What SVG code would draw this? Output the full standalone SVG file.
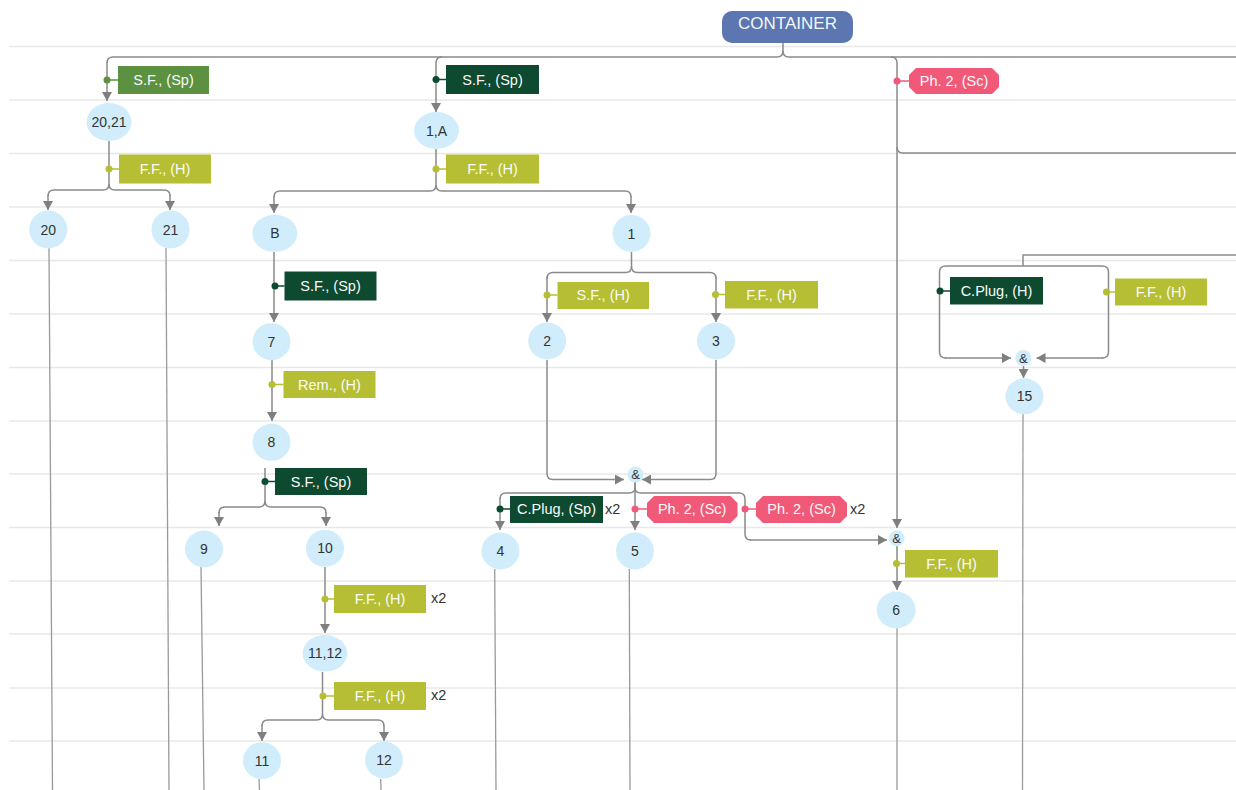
<svg xmlns="http://www.w3.org/2000/svg" width="1236" height="790" viewBox="0 0 1236 790">
<style>
.grid{stroke:#e8e8e8;stroke-width:1.5}
.c{fill:none;stroke:#8a8a8a;stroke-width:1.5}
.ca{fill:none;stroke:#8a8a8a;stroke-width:1.5;marker-end:url(#ah)}
.tail{fill:none;stroke:#9a9a9a;stroke-width:1.3}
.n{fill:#d1edfb}
.nt{font-family:"Liberation Sans",Arial,sans-serif;font-size:14px;fill:#333;text-anchor:middle}
.amp{font-family:"Liberation Sans",Arial,sans-serif;font-size:13px;fill:#333;text-anchor:middle}
.lt{font-family:"Liberation Sans",Arial,sans-serif;font-size:14.5px;fill:#fafafa;text-anchor:middle}
.x2{font-family:"Liberation Sans",Arial,sans-serif;font-size:14.5px;fill:#333}
.mg{fill:#5b9141}.mgs{stroke:#5b9141;stroke-width:1.5}
.dg{fill:#0e4a30}.dgs{stroke:#0e4a30;stroke-width:1.5}
.yg{fill:#b6bf33}.ygs{stroke:#b6bf33;stroke-width:1.5}
.pk{fill:#f05a78}.pks{stroke:#f05a78;stroke-width:1.5}
</style>
<defs>
<marker id="ah" markerUnits="userSpaceOnUse" markerWidth="10" markerHeight="10" viewBox="0 0 9 10" refX="9" refY="5" orient="auto">
<path d="M0,0 L9,5 L0,10 z" fill="#7f7f7f"/>
</marker>
</defs>
<rect width="1236" height="790" fill="#ffffff"/>
<g id="grid">
<line class="grid" x1="9" y1="46.5" x2="1236" y2="46.5"/>
<line class="grid" x1="9" y1="100" x2="1236" y2="100"/>
<line class="grid" x1="9" y1="153.5" x2="1236" y2="153.5"/>
<line class="grid" x1="9" y1="207" x2="1236" y2="207"/>
<line class="grid" x1="9" y1="260.5" x2="1236" y2="260.5"/>
<line class="grid" x1="9" y1="314" x2="1236" y2="314"/>
<line class="grid" x1="9" y1="367.5" x2="1236" y2="367.5"/>
<line class="grid" x1="9" y1="421" x2="1236" y2="421"/>
<line class="grid" x1="9" y1="474" x2="1236" y2="474"/>
<line class="grid" x1="9" y1="527.5" x2="1236" y2="527.5"/>
<line class="grid" x1="9" y1="581" x2="1236" y2="581"/>
<line class="grid" x1="9" y1="634" x2="1236" y2="634"/>
<line class="grid" x1="9" y1="688" x2="1236" y2="688"/>
<line class="grid" x1="9" y1="741" x2="1236" y2="741"/>
</g>
<g id="connectors">
<path class="c" d="M783 43 V51 Q783 57 777 57 H113 Q107 57 107 63"/>
<path class="ca" d="M107 62 V101"/>
<path class="ca" d="M442 57 Q436 57 436 63 V112"/>
<path class="c" d="M783 51 Q783 57 789 57 H1236"/>
<path class="ca" d="M891 57 Q897 57 897 63 V528"/>
<path class="c" d="M1236 153 H903 Q897 153 897 147"/>
<path class="c" d="M109 141 V184 Q109 190 103 190 H54 Q48 190 48 196"/>
<path class="ca" d="M48 195 V210"/>
<path class="c" d="M109 184 Q109 190 115 190 H164 Q170 190 170 196"/>
<path class="ca" d="M170 195 V210"/>
<path class="c" d="M436 149 V185 Q436 191 430 191 H280 Q274 191 274 197"/>
<path class="ca" d="M274 196 V213"/>
<path class="c" d="M436 185 Q436 191 442 191 H625 Q631 191 631 197"/>
<path class="ca" d="M631 196 V213"/>
<path class="ca" d="M274 252 V322"/>
<path class="ca" d="M272 360 V421"/>
<path class="c" d="M265 468 V501 Q265 507 259 507 H225 Q219 507 219 513"/>
<path class="ca" d="M219 512 V526"/>
<path class="c" d="M265 501 Q265 507 271 507 H320 Q326 507 326 513"/>
<path class="ca" d="M326 512 V526"/>
<path class="ca" d="M325 567 V633"/>
<path class="c" d="M322.5 672 V714 Q322.5 720 316.5 720 H268 Q262 720 262 726"/>
<path class="ca" d="M262 725 V741"/>
<path class="c" d="M322.5 714 Q322.5 720 328.5 720 H378 Q384 720 384 726"/>
<path class="ca" d="M384 725 V741"/>
<path class="c" d="M631.5 252 V266.5 Q631.5 272.5 625.5 272.5 H553 Q547 272.5 547 278.5"/>
<path class="ca" d="M547 277 V322"/>
<path class="c" d="M631.5 266.5 Q631.5 272.5 637.5 272.5 H710 Q716 272.5 716 278.5"/>
<path class="ca" d="M716 277 V322"/>
<path class="ca" d="M547 360 V473.5 Q547 479.5 553 479.5 H624"/>
<path class="ca" d="M716 360 V473.5 Q716 479.5 710 479.5 H642"/>
<path class="c" d="M635 482 V487.5 Q635 493 629 493 H506 Q500 493 500 499"/>
<path class="ca" d="M500 498 V530"/>
<path class="ca" d="M635 482 V530"/>
<path class="c" d="M635 487.5 Q635 493 641 493 H739 Q745 493 745 499 V534 Q745 540 751 540"/>
<path class="ca" d="M750 540 H887"/>
<path class="ca" d="M897 546 V590"/>
<path class="c" d="M1236 255 H1023 V266"/>
<path class="c" d="M1023 266 H946 Q939.5 266 939.5 272 V352 Q939.5 358 946 358"/>
<path class="ca" d="M945 358 H1011"/>
<path class="c" d="M1023 266 H1102 Q1108.5 266 1108.5 272 V352 Q1108.5 358 1102 358"/>
<path class="ca" d="M1103 358 H1036.5"/>
<path class="ca" d="M1023.5 366 V378"/>
<path class="tail" d="M49 248 L52.5 790"/>
<path class="tail" d="M166 248 L169 790"/>
<path class="tail" d="M201 567 L204 790"/>
<path class="tail" d="M259 779 L259.5 790"/>
<path class="tail" d="M380.7 779 L381 790"/>
<path class="tail" d="M494.7 569 L496 790"/>
<path class="tail" d="M629.3 569 L630 790"/>
<path class="tail" d="M897 628 L897 790"/>
<path class="tail" d="M1023 414 L1022.5 790"/>
</g>
<g id="container">
<rect x="722" y="11" width="131" height="32" rx="10" fill="#5b76b0"/>
<text x="787.5" y="29" font-family="Liberation Sans,Arial,sans-serif" font-size="17" fill="#f4f6fb" text-anchor="middle">CONTAINER</text>
</g>
<g id="n2021"><ellipse class="n" cx="109" cy="122" rx="22.5" ry="19"/><text class="nt" x="109" y="127">20,21</text></g>
<g id="n1A"><ellipse class="n" cx="436.5" cy="130.5" rx="22.5" ry="18.5"/><text class="nt" x="436.5" y="135.5">1,A</text></g>
<g id="n20"><ellipse class="n" cx="48.3" cy="229.5" rx="19" ry="19"/><text class="nt" x="48.3" y="234.5">20</text></g>
<g id="n21"><ellipse class="n" cx="170.5" cy="229.5" rx="19" ry="19"/><text class="nt" x="170.5" y="234.5">21</text></g>
<g id="nB"><ellipse class="n" cx="274.8" cy="233.3" rx="22.5" ry="18.5"/><text class="nt" x="274.8" y="238.3">B</text></g>
<g id="n1"><ellipse class="n" cx="631.5" cy="233.5" rx="19" ry="18.5"/><text class="nt" x="631.5" y="238.5">1</text></g>
<g id="n2"><ellipse class="n" cx="547.2" cy="341" rx="19" ry="18.5"/><text class="nt" x="547.2" y="346">2</text></g>
<g id="n3"><ellipse class="n" cx="716" cy="341" rx="19" ry="18.5"/><text class="nt" x="716" y="346">3</text></g>
<g id="n7"><ellipse class="n" cx="271.5" cy="341.7" rx="19" ry="18.5"/><text class="nt" x="271.5" y="346.7">7</text></g>
<g id="n15"><ellipse class="n" cx="1024.5" cy="396.3" rx="19" ry="18"/><text class="nt" x="1024.5" y="401.3">15</text></g>
<g id="n8"><ellipse class="n" cx="271.5" cy="442.3" rx="19" ry="18.5"/><text class="nt" x="271.5" y="447.3">8</text></g>
<g id="and1"><circle class="n" cx="635.5" cy="474.5" r="8"/><text class="amp" x="635.5" y="479">&amp;</text></g>
<g id="and2"><circle class="n" cx="896.7" cy="538.3" r="8"/><text class="amp" x="896.7" y="542.8">&amp;</text></g>
<g id="and3"><circle class="n" cx="1023.3" cy="358" r="8"/><text class="amp" x="1023.3" y="362.5">&amp;</text></g>
<g id="n9"><ellipse class="n" cx="204" cy="549" rx="19" ry="18.5"/><text class="nt" x="204" y="554">9</text></g>
<g id="n10"><ellipse class="n" cx="325" cy="548.3" rx="19" ry="18.5"/><text class="nt" x="325" y="553.3">10</text></g>
<g id="n4"><ellipse class="n" cx="500.5" cy="551" rx="19" ry="18.5"/><text class="nt" x="500.5" y="556">4</text></g>
<g id="n5"><ellipse class="n" cx="635" cy="551" rx="19" ry="18.5"/><text class="nt" x="635" y="556">5</text></g>
<g id="n6"><ellipse class="n" cx="896.2" cy="610" rx="19.5" ry="18.5"/><text class="nt" x="896.2" y="615">6</text></g>
<g id="n1112"><ellipse class="n" cx="325" cy="653.3" rx="22.3" ry="18.3"/><text class="nt" x="325" y="658.3">11,12</text></g>
<g id="n11"><ellipse class="n" cx="262" cy="760.7" rx="19" ry="18.5"/><text class="nt" x="262" y="765.7">11</text></g>
<g id="n12"><ellipse class="n" cx="384" cy="760" rx="19" ry="18.5"/><text class="nt" x="384" y="765">12</text></g>
<g id="l1"><line class="mgs" x1="107" y1="80" x2="118" y2="80"/><circle class="mg" cx="107" cy="80" r="3.5"/><rect class="mg" x="118" y="66" width="91" height="28"/><text class="lt" x="163.5" y="85">S.F., (Sp)</text></g>
<g id="l2"><line class="dgs" x1="436" y1="79.5" x2="446" y2="79.5"/><circle class="dg" cx="436" cy="79.5" r="3.5"/><rect class="dg" x="446" y="65" width="93" height="29"/><text class="lt" x="492.5" y="84.5">S.F., (Sp)</text></g>
<g id="l3"><line class="pks" x1="897" y1="81" x2="909" y2="81"/><circle class="pk" cx="897" cy="81" r="3.5"/><path class="pk" d="M916 68 H992 L999 75 V87 L992 94 H916 L909 87 V75 z"/><text class="lt" x="954" y="86">Ph. 2, (Sc)</text></g>
<g id="l4"><line class="ygs" x1="109" y1="169" x2="119" y2="169"/><circle class="yg" cx="109" cy="169" r="3.5"/><rect class="yg" x="119" y="154.5" width="92" height="29"/><text class="lt" x="165" y="174">F.F., (H)</text></g>
<g id="l5"><line class="ygs" x1="436" y1="169" x2="446" y2="169"/><circle class="yg" cx="436" cy="169" r="3.5"/><rect class="yg" x="446" y="154.5" width="93" height="29"/><text class="lt" x="492.5" y="174">F.F., (H)</text></g>
<g id="l6"><line class="dgs" x1="275" y1="286" x2="284.5" y2="286"/><circle class="dg" cx="275" cy="286" r="3.5"/><rect class="dg" x="284.5" y="271.5" width="92" height="29"/><text class="lt" x="330.5" y="291">S.F., (Sp)</text></g>
<g id="l7"><line class="ygs" x1="547" y1="295" x2="557.5" y2="295"/><circle class="yg" cx="547" cy="295" r="3.5"/><rect class="yg" x="557.5" y="282" width="91.5" height="27"/><text class="lt" x="603.2" y="300">S.F., (H)</text></g>
<g id="l8"><line class="ygs" x1="715.5" y1="294.5" x2="725" y2="294.5"/><circle class="yg" cx="715.5" cy="294.5" r="3.5"/><rect class="yg" x="725" y="281" width="93" height="27.5"/><text class="lt" x="771.5" y="299.5">F.F., (H)</text></g>
<g id="l9"><line class="dgs" x1="940" y1="291" x2="950" y2="291"/><circle class="dg" cx="940" cy="291" r="3.5"/><rect class="dg" x="950" y="277" width="93" height="27.5"/><text class="lt" x="996.5" y="296">C.Plug, (H)</text></g>
<g id="l10"><line class="ygs" x1="1106.5" y1="292" x2="1115" y2="292"/><circle class="yg" cx="1106.5" cy="292" r="3.5"/><rect class="yg" x="1115" y="278.5" width="92" height="27"/><text class="lt" x="1161" y="297">F.F., (H)</text></g>
<g id="l11"><line class="ygs" x1="272" y1="384.5" x2="283.5" y2="384.5"/><circle class="yg" cx="272" cy="384.5" r="3.5"/><rect class="yg" x="283.5" y="371" width="92" height="27"/><text class="lt" x="329.5" y="389.5">Rem., (H)</text></g>
<g id="l12"><line class="dgs" x1="265" y1="481.5" x2="275" y2="481.5"/><circle class="dg" cx="265" cy="481.5" r="3.5"/><rect class="dg" x="275" y="468" width="92" height="27"/><text class="lt" x="321" y="486.5">S.F., (Sp)</text></g>
<g id="l13"><line class="dgs" x1="500" y1="509" x2="510" y2="509"/><circle class="dg" cx="500" cy="509" r="3.5"/><rect class="dg" x="510" y="496" width="93" height="27"/><text class="lt" x="556.5" y="514">C.Plug, (Sp)</text><text class="x2" x="605" y="514">x2</text></g>
<g id="l14"><line class="pks" x1="635" y1="509" x2="647" y2="509"/><circle class="pk" cx="635" cy="509" r="3.5"/><path class="pk" d="M654 496 H730.5 L737.5 503 V516 L730.5 523 H654 L647 516 V503 z"/><text class="lt" x="692.2" y="514">Ph. 2, (Sc)</text></g>
<g id="l15"><line class="pks" x1="745" y1="509" x2="756" y2="509"/><circle class="pk" cx="745" cy="509" r="3.5"/><path class="pk" d="M763 496 H840 L847 503 V516 L840 523 H763 L756 516 V503 z"/><text class="lt" x="801.5" y="514">Ph. 2, (Sc)</text><text class="x2" x="850" y="514">x2</text></g>
<g id="l16"><line class="ygs" x1="896.5" y1="563.5" x2="905" y2="563.5"/><circle class="yg" cx="896.5" cy="563.5" r="3.5"/><rect class="yg" x="905" y="550" width="93" height="27.5"/><text class="lt" x="951.5" y="568.5">F.F., (H)</text></g>
<g id="l17"><line class="ygs" x1="325" y1="599" x2="334" y2="599"/><circle class="yg" cx="325" cy="599" r="3.5"/><rect class="yg" x="334" y="585" width="92" height="28"/><text class="lt" x="380" y="604">F.F., (H)</text><text class="x2" x="431" y="603">x2</text></g>
<g id="l18"><line class="ygs" x1="323" y1="696" x2="334" y2="696"/><circle class="yg" cx="323" cy="696" r="3.5"/><rect class="yg" x="334" y="682" width="92" height="28"/><text class="lt" x="380" y="701">F.F., (H)</text><text class="x2" x="431" y="700">x2</text></g>
</svg>
